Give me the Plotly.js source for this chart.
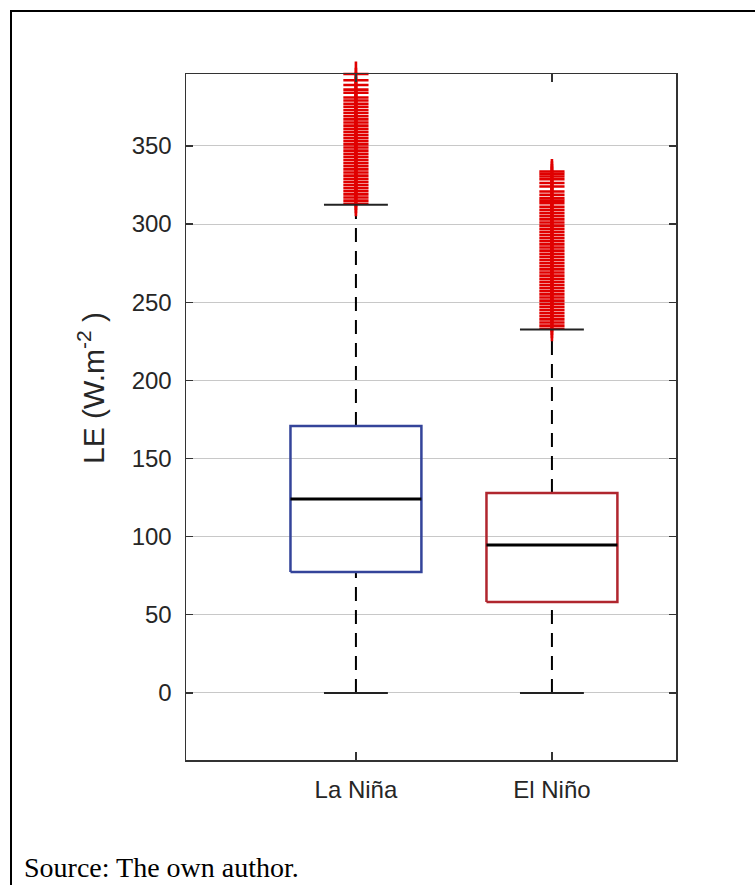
<!DOCTYPE html>
<html>
<head>
<meta charset="utf-8">
<script src="https://cdn.plot.ly/plotly-3.0.1.min.js"></script>
<style>
  html, body { margin: 0; padding: 0; background: #fff; }
  #wrap { position: relative; width: 755px; height: 885px; overflow: hidden; }
  #chart { width: 755px; height: 885px; }
  #frame { position: absolute; left: 10px; top: 10px; width: 745px; height: 875px;
           border-top: 2px solid #000; border-left: 2px solid #000; pointer-events: none; box-sizing: border-box; }
</style>
</head>
<body>
<div id="wrap">
  <div id="chart"></div>
  <div id="frame"></div>
</div>
<script>
// ---- data ----
const categories = ['La Niña', 'El Niño'];
const boxColors = ['#34449a', '#b0262e'];
const q1 = [77.4, 58.2];
const median = [124.1, 94.7];
const q3 = [170.8, 128.0];
const lowerWhisker = [0, 0];
const upperWhisker = [312.3, 232.6];
const outliersLaNina = [313, 315, 317, 319, 321, 323, 325, 327, 329, 331, 333, 335, 337, 339, 341, 343,
  345, 347, 349, 351, 353, 355, 357, 359, 361, 363, 365, 367, 369, 371, 373, 375, 377, 379, 381,
  384, 386, 389, 392, 396];
const outliersElNino = [233, 235, 237, 239, 241, 243, 245, 247, 249, 251, 253, 255, 257, 259, 261, 263,
  265, 267, 269, 271, 273, 275, 277, 279, 281, 283, 285, 287, 289, 291, 293, 295, 297, 299, 301, 303,
  305, 307, 309, 311, 313.3, 315, 316.6, 318.7, 320.8, 324, 326.3, 328.7, 330.4, 332.1, 333.6];
const yTicks = [0, 50, 100, 150, 200, 250, 300, 350];
const outliers = [outliersLaNina, outliersElNino];

// ---- styling ----
const boxHalf = 0.334, capHalf = 0.163;
const traces = [];
categories.forEach((c, i) => {
  // whiskers (dashed)
  traces.push({type: 'scatter', mode: 'lines', x: [i, i], y: [q3[i], upperWhisker[i]],
    line: {color: '#000', width: 2, dash: '14px,9px'}, hoverinfo: 'skip', showlegend: false});
  traces.push({type: 'scatter', mode: 'lines', x: [i, i], y: [lowerWhisker[i], q1[i]],
    line: {color: '#000', width: 2, dash: '14px,9px'}, hoverinfo: 'skip', showlegend: false});
  // outliers
  traces.push({type: 'scatter', mode: 'markers', x: outliers[i].map(() => i), y: outliers[i],
    marker: {symbol: 'cross-thin-open', size: 18, color: '#e00000', line: {color: '#e00000', width: 2.6}},
    cliponaxis: false, name: c + ' outliers', showlegend: false});
  // caps
  traces.push({type: 'scatter', mode: 'lines', x: [i - capHalf, i + capHalf], y: [upperWhisker[i], upperWhisker[i]],
    line: {color: '#222', width: 2}, hoverinfo: 'skip', showlegend: false});
  traces.push({type: 'scatter', mode: 'lines', x: [i - capHalf, i + capHalf], y: [lowerWhisker[i], lowerWhisker[i]],
    line: {color: '#222', width: 2}, hoverinfo: 'skip', showlegend: false});
  // box
  traces.push({type: 'scatter', mode: 'lines',
    x: [i - boxHalf, i + boxHalf, i + boxHalf, i - boxHalf, i - boxHalf],
    y: [q1[i], q1[i], q3[i], q3[i], q1[i]],
    line: {color: boxColors[i], width: 2.5}, name: c, showlegend: false});
  // median
  traces.push({type: 'scatter', mode: 'lines', x: [i - boxHalf, i + boxHalf], y: [median[i], median[i]],
    line: {color: '#000', width: 3}, hoverinfo: 'skip', showlegend: false});
});

const layout = {
  width: 755, height: 885,
  margin: {l: 186, r: 79, t: 74, b: 125},
  paper_bgcolor: '#fff', plot_bgcolor: '#fff',
  showlegend: false,
  font: {family: 'Liberation Sans, Arial, sans-serif', color: '#262626'},
  xaxis: {
    range: [-0.867, 1.633], tickvals: categories.map((c, i) => i), ticktext: categories,
    showgrid: false, zeroline: false, showline: true, mirror: 'ticks', linecolor: '#333', linewidth: 1.5,
    ticks: 'inside', ticklen: 8, tickcolor: '#333', tickwidth: 1.2,
    tickfont: {size: 24, color: '#262626'}, ticklabelstandoff: 8
  },
  yaxis: {
    range: [-42.9, 396], tickvals: yTicks, ticktext: yTicks.map(String),
    showgrid: true, gridcolor: '#c8c8c8', gridwidth: 1, zeroline: false,
    showline: true, mirror: 'ticks', linecolor: '#333', linewidth: 1.5,
    ticks: 'inside', ticklen: 7, tickcolor: '#333', tickwidth: 1.2,
    tickfont: {size: 24, color: '#262626'}, ticklabelstandoff: 8
  },
  annotations: [
    {text: 'LE (W.m<sup>-2</sup> )', xref: 'paper', yref: 'paper',
     x: (89 - 186) / 500, y: (760 - 388) / 686, xanchor: 'center', yanchor: 'middle',
     textangle: -90, showarrow: false, font: {size: 30, color: '#262626', family: 'Liberation Sans, Arial, sans-serif'}},
    {text: 'Source: The own author.', xref: 'paper', yref: 'paper',
     x: (22 - 186) / 490, y: (760 - 885) / 686, xanchor: 'left', yanchor: 'bottom',
     showarrow: false, font: {size: 28, color: '#000', family: 'Liberation Serif, Times New Roman, serif'}}
  ]
};

Plotly.newPlot('chart', traces, layout, {staticPlot: true, displayModeBar: false});
</script>
</body>
</html>
